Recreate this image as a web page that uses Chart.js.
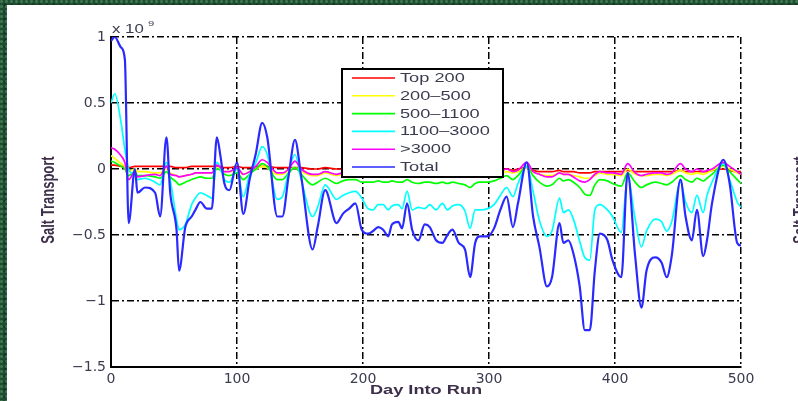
<!DOCTYPE html>
<html>
<head>
<meta charset="utf-8">
<script src="https://cdn.jsdelivr.net/npm/chart.js@4.4.1/dist/chart.umd.min.js"></script>
<style>
  html, body { margin: 0; padding: 0; }
  body {
    width: 798px; height: 401px; overflow: hidden; position: relative;
    background-color: #1f4d32;
    background-image:
      radial-gradient(circle at 30% 30%, rgba(90,150,105,0.55) 0 1px, transparent 2px),
      radial-gradient(circle at 70% 70%, rgba(10,40,20,0.6) 0 1px, transparent 2px);
    background-size: 5px 5px, 7px 7px;
  }
  #sheet { position: absolute; left: 7px; top: 5px; right: 0; bottom: 0; background: #fff; }
  #c { position: absolute; left: 0; top: 0; }
</style>
</head>
<body>
<div id="sheet"></div>
<canvas id="c" width="798" height="401"></canvas>
<script>
// Sample days (x values shared by every depth band)
const days = [
  0, 3, 8, 11, 14, 19, 21, 27, 35, 39,
  44, 47, 52, 54, 59, 64, 67, 71, 76, 80,
  84, 87, 90, 94, 100, 105, 110, 115, 120, 124,
  132, 136, 141, 146, 151, 160, 164, 170, 179, 184,
  189, 194, 199, 204, 208, 212, 216, 220, 223, 228,
  231, 235, 239, 244, 249, 253, 258, 263, 267, 271,
  276, 281, 285, 289, 293, 299, 304, 309, 314, 319,
  323, 330, 335, 340, 346, 350, 356, 359, 363, 367,
  372, 376, 380, 384, 388, 394, 398, 405, 410, 416,
  421, 425, 432, 437, 441, 445, 452, 456, 461, 465,
  470, 473, 477, 486, 491, 497, 500
];

// Salt transport per depth band, in units of 1e9
const top200 = [
  0.03, 0.03, 0.02, 0.02, 0.01, 0.02, 0.02, 0.02, 0.02, 0.02,
  0.02, 0.02, 0.01, 0.01, 0.01, 0.02, 0.02, 0.02, 0.02, 0.02,
  0.02, 0.02, 0.01, 0.01, 0.02, 0.01, 0.01, 0.02, 0.02, 0.02,
  0.01, 0.01, 0.01, 0.01, 0.01, 0.00, 0.00, 0.01, 0.00, 0.00,
  0.00, 0.00, 0.00, 0.00, 0.00, 0.00, 0.00, -0.01, 0.00, 0.00,
  -0.01, 0.00, -0.01, -0.01, -0.01, -0.01, -0.01, -0.01, -0.01, -0.01,
  -0.01, -0.02, -0.02, -0.01, -0.01, -0.01, -0.01, -0.01, 0.00, -0.01,
  0.00, 0.01, -0.01, -0.02, -0.02, -0.02, -0.01, -0.02, -0.02, -0.02,
  -0.03, -0.03, -0.03, -0.02, -0.02, -0.02, -0.02, -0.02, -0.01, -0.02,
  -0.02, -0.02, -0.02, -0.02, -0.02, -0.02, -0.01, -0.02, -0.02, -0.02,
  -0.02, -0.02, -0.01, 0.00, -0.01, -0.02, -0.02
];
const band200to500 = [
  0.10, 0.08, 0.04, 0.02, -0.02, 0.00, -0.02, -0.02, -0.03, -0.03,
  0.00, -0.03, -0.05, -0.06, -0.05, -0.04, -0.03, -0.03, -0.03, -0.03,
  0.01, 0.00, -0.02, -0.02, -0.01, -0.04, -0.02, 0.00, 0.02, 0.01,
  -0.04, -0.04, -0.01, 0.01, -0.02, -0.05, -0.05, -0.03, -0.05, -0.04,
  -0.04, -0.03, -0.04, -0.05, -0.04, -0.04, -0.05, -0.05, -0.04, -0.04,
  -0.05, -0.03, -0.05, -0.05, -0.04, -0.05, -0.05, -0.05, -0.05, -0.04,
  -0.05, -0.05, -0.06, -0.05, -0.04, -0.04, -0.04, -0.03, -0.02, -0.03,
  -0.02, 0.01, -0.02, -0.04, -0.05, -0.05, -0.03, -0.04, -0.04, -0.05,
  -0.06, -0.07, -0.07, -0.05, -0.03, -0.04, -0.04, -0.05, 0.00, -0.04,
  -0.05, -0.05, -0.04, -0.04, -0.05, -0.04, -0.01, -0.03, -0.04, -0.03,
  -0.04, -0.03, -0.01, 0.02, 0.00, -0.03, -0.04
];
const band500to1100 = [
  0.06, 0.05, 0.02, 0.00, -0.05, -0.02, -0.05, -0.05, -0.06, -0.07,
  -0.02, -0.06, -0.10, -0.12, -0.10, -0.08, -0.07, -0.06, -0.07, -0.07,
  0.00, -0.01, -0.04, -0.05, -0.03, -0.08, -0.04, 0.00, 0.04, 0.02,
  -0.08, -0.08, -0.03, 0.01, -0.04, -0.12, -0.10, -0.07, -0.11, -0.09,
  -0.08, -0.08, -0.10, -0.10, -0.10, -0.09, -0.10, -0.10, -0.09, -0.10,
  -0.10, -0.08, -0.10, -0.11, -0.10, -0.10, -0.11, -0.10, -0.11, -0.10,
  -0.11, -0.12, -0.14, -0.11, -0.10, -0.10, -0.09, -0.07, -0.05, -0.08,
  -0.05, 0.02, -0.05, -0.10, -0.13, -0.12, -0.07, -0.09, -0.08, -0.10,
  -0.14, -0.19, -0.20, -0.12, -0.08, -0.09, -0.11, -0.13, -0.03, -0.10,
  -0.14, -0.12, -0.10, -0.11, -0.12, -0.10, -0.05, -0.08, -0.10, -0.07,
  -0.09, -0.07, -0.04, 0.03, -0.02, -0.08, -0.11
];
const band1100to3000 = [
  0.50, 0.57, 0.35, 0.15, 0.00, -0.05, -0.08, -0.07, -0.10, -0.12,
  0.05, -0.08, -0.38, -0.46, -0.42, -0.27, -0.22, -0.18, -0.20, -0.22,
  0.05, 0.00, -0.08, -0.10, 0.00, -0.21, -0.04, 0.05, 0.17, 0.11,
  -0.23, -0.21, -0.02, 0.11, -0.08, -0.36, -0.29, -0.12, -0.23, -0.20,
  -0.18, -0.17, -0.22, -0.30, -0.31, -0.27, -0.27, -0.31, -0.28, -0.27,
  -0.30, -0.17, -0.31, -0.29, -0.30, -0.27, -0.31, -0.26, -0.31, -0.28,
  -0.27, -0.32, -0.45, -0.31, -0.31, -0.30, -0.27, -0.20, -0.14, -0.21,
  -0.11, 0.02, -0.17, -0.39, -0.51, -0.47, -0.22, -0.33, -0.31, -0.38,
  -0.55, -0.67, -0.69, -0.31, -0.27, -0.31, -0.36, -0.48, -0.06, -0.38,
  -0.59, -0.47, -0.38, -0.40, -0.47, -0.40, -0.10, -0.25, -0.33, -0.20,
  -0.33, -0.20, -0.10, 0.04, -0.08, -0.25, -0.29
];
const below3000 = [
  0.16, 0.15, 0.10, 0.05, -0.08, -0.02, -0.06, -0.05, -0.04, -0.05,
  0.02, -0.04, -0.05, -0.06, -0.05, -0.04, -0.03, -0.03, -0.03, -0.03,
  0.03, 0.01, -0.02, -0.02, 0.01, -0.04, -0.02, 0.02, 0.07, 0.05,
  -0.03, -0.03, 0.00, 0.06, 0.00, -0.04, -0.04, -0.02, -0.04, -0.03,
  -0.03, -0.02, -0.03, -0.03, -0.03, -0.02, -0.03, -0.03, -0.02, -0.03,
  -0.03, -0.02, -0.03, -0.04, -0.03, -0.03, -0.04, -0.04, -0.03, -0.03,
  -0.04, -0.04, -0.06, -0.04, -0.03, -0.03, -0.02, -0.01, 0.00, -0.02,
  -0.01, 0.05, -0.02, -0.04, -0.06, -0.06, -0.03, -0.04, -0.04, -0.06,
  -0.09, -0.10, -0.08, -0.04, -0.02, -0.03, -0.03, -0.04, 0.04, -0.03,
  -0.05, -0.04, -0.03, -0.03, -0.04, -0.03, 0.04, 0.00, -0.02, 0.00,
  -0.02, -0.01, 0.00, 0.05, 0.02, -0.02, -0.04
];
const total = [
  0.97, 1.00, 0.92, 0.83, -0.41, 0.00, -0.18, -0.14, -0.18, -0.36,
  0.24, -0.18, -0.46, -0.77, -0.44, -0.36, -0.31, -0.25, -0.30, -0.30,
  0.24, 0.09, -0.11, -0.16, 0.05, -0.34, -0.08, 0.12, 0.35, 0.24,
  -0.36, -0.36, -0.05, 0.22, -0.06, -0.61, -0.44, -0.16, -0.41, -0.34,
  -0.30, -0.26, -0.46, -0.49, -0.47, -0.44, -0.46, -0.51, -0.42, -0.40,
  -0.45, -0.26, -0.46, -0.54, -0.42, -0.44, -0.54, -0.56, -0.50, -0.46,
  -0.56, -0.61, -0.82, -0.56, -0.51, -0.51, -0.45, -0.31, -0.21, -0.44,
  -0.26, 0.05, -0.36, -0.59, -0.89, -0.82, -0.41, -0.56, -0.54, -0.64,
  -0.89, -1.22, -1.22, -0.77, -0.49, -0.54, -0.69, -0.82, -0.03, -0.66,
  -1.05, -0.77, -0.67, -0.71, -0.82, -0.66, -0.08, -0.36, -0.54, -0.31,
  -0.66, -0.54, -0.26, 0.07, -0.11, -0.56, -0.58
];

const seriesNames = ['Top 200', '200\u2013500', '500\u20131100', '1100\u20133000', '>3000', 'Total'];
const seriesValues = [top200, band200to500, band500to1100, band1100to3000, below3000, total];
const seriesColors = ['#ff0000', '#ffff00', '#00ff00', '#00ffff', '#ff00ff', '#2a2aff'];

const xTicks = [0, 100, 200, 300, 400, 500];
const xTickLabels = ['0', '100', '200', '300', '400', '500'];
const yTicks = [-1.5, -1, -0.5, 0, 0.5, 1];
const yTickLabels = ['\u22121.5', '\u22121', '\u22120.5', '0', '0.5', '1'];

const xTitle = 'Day Into Run';
const yTitle = 'Salt Transport';
const expBase = 'x 10';
const expPower = '9';

const TEXT_STRETCH = 1.4;
const tickColor = '#3b3b50';
const titleColor = '#3d2f4a';
const labelFont = '"Liberation Sans", Arial, sans-serif';

function stretchedText(ctx, str, x, y, font, color, align, baseline) {
  ctx.save();
  ctx.translate(x, y);
  ctx.scale(TEXT_STRETCH, 1);
  ctx.font = font;
  ctx.fillStyle = color;
  ctx.textAlign = align;
  ctx.textBaseline = baseline || 'alphabetic';
  ctx.fillText(str, 0, 0);
  ctx.restore();
}

function rotatedTitle(ctx, str, x, y) {
  ctx.save();
  ctx.translate(x, y);
  ctx.scale(TEXT_STRETCH, 1);
  ctx.rotate(-Math.PI / 2);
  ctx.font = 'bold 13px ' + labelFont;
  ctx.fillStyle = titleColor;
  ctx.textAlign = 'center';
  ctx.textBaseline = 'middle';
  ctx.fillText(str, 0, 0);
  ctx.restore();
}

// Axis titles, exponent note and the boxed legend
const decorations = {
  id: 'decorations',
  afterDraw(chart) {
    const { ctx, chartArea: a } = chart;
    const cx = (a.left + a.right) / 2;

    rotatedTitle(ctx, yTitle, 49, 200);
    rotatedTitle(ctx, yTitle, 801, 200);
    stretchedText(ctx, xTitle, cx, 394, 'bold 13px ' + labelFont, titleColor, 'center');

    stretchedText(ctx, expBase, a.left + 1, a.top - 4, '12px ' + labelFont, tickColor, 'left');
    stretchedText(ctx, expPower, a.left + 37, a.top - 11, '8px ' + labelFont, tickColor, 'left');

    // legend box
    const bx = 342, by = 69, bw = 161, bh = 108;
    ctx.save();
    ctx.fillStyle = '#ffffff';
    ctx.fillRect(bx, by, bw, bh);
    ctx.lineWidth = 2;
    ctx.strokeStyle = '#000000';
    ctx.strokeRect(bx, by, bw, bh);
    chart.data.datasets.forEach((ds, i) => {
      const y = by + 9 + i * 17.8;
      ctx.beginPath();
      ctx.lineWidth = 1.6;
      ctx.strokeStyle = ds.borderColor;
      ctx.moveTo(bx + 10, y);
      ctx.lineTo(bx + 53, y);
      ctx.stroke();
      stretchedText(ctx, ds.label, bx + 58, y + 0.5, '13px ' + labelFont, tickColor, 'left', 'middle');
    });
    ctx.restore();
  }
};

const gridStyle = { color: '#000000', lineWidth: 1.5, drawTicks: false };
const borderStyle = { display: true, color: '#000000', width: 2, dash: [7, 3, 2, 3] };
const tickFont = { family: '"DejaVu Sans", sans-serif', size: 14 };

new Chart(document.getElementById('c'), {
  type: 'line',
  data: {
    datasets: seriesNames.map((name, i) => ({
      label: name,
      data: days.map((d, k) => ({ x: d, y: seriesValues[i][k] })),
      borderColor: seriesColors[i],
      backgroundColor: seriesColors[i],
      borderWidth: i === 5 ? 2.2 : 1.7,
      pointRadius: 0,
      fill: false,
      cubicInterpolationMode: 'monotone',
      order: seriesNames.length - 1 - i
    }))
  },
  options: {
    responsive: false,
    animation: false,
    devicePixelRatio: 1,
    layout: { padding: { top: 37, right: 57, bottom: 0, left: 0 } },
    plugins: { legend: { display: false }, tooltip: { enabled: false } },
    scales: {
      x: {
        type: 'linear', min: 0, max: 500,
        afterBuildTicks: s => { s.ticks = xTicks.map(v => ({ value: v })); },
        afterFit: s => { s.height = 34; },
        ticks: {
          font: tickFont, color: tickColor, padding: 4, maxRotation: 0, autoSkip: false,
          callback: (v, i) => xTickLabels[i]
        },
        grid: gridStyle,
        border: borderStyle
      },
      y: {
        type: 'linear', min: -1.5, max: 1,
        afterBuildTicks: s => { s.ticks = yTicks.map(v => ({ value: v })); },
        afterFit: s => { s.width = 111; },
        ticks: {
          font: tickFont, color: tickColor, padding: 5, autoSkip: false,
          callback: (v, i) => yTickLabels[i]
        },
        grid: gridStyle,
        border: borderStyle
      }
    }
  },
  plugins: [decorations]
});
</script>
</body>
</html>
